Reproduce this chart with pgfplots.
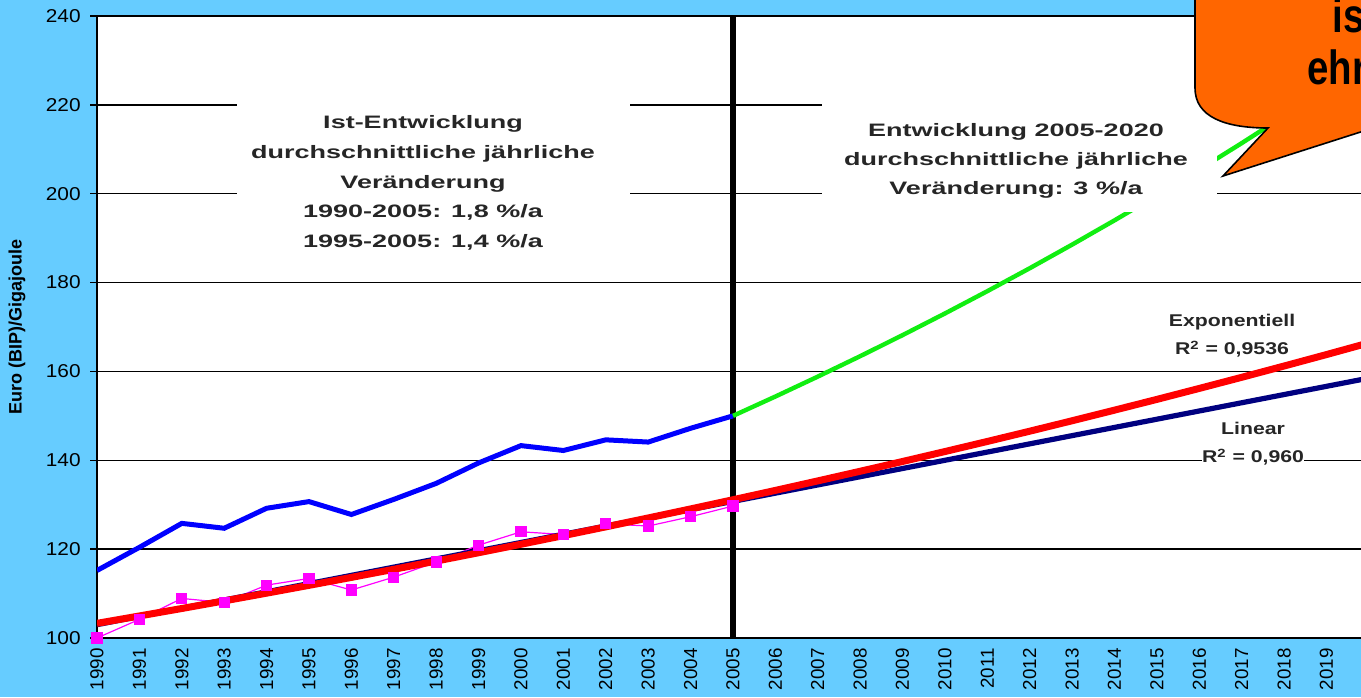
\documentclass[border=0pt]{standalone}
\usepackage{fontspec}
\setmainfont{Liberation Sans}
\newfontfamily\annfont[FakeStretch=1.5]{Liberation Sans}
\newfontfamily\trfont[FakeStretch=1.25]{Liberation Sans}
\newfontfamily\tickfont[FakeStretch=1.12]{Liberation Sans}
\newfontfamily\callfont[FakeStretch=0.8]{Liberation Sans}
\usepackage{pgfplots}
\pgfplotsset{compat=1.18}
\definecolor{bgblue}{HTML}{66CCFF}
\definecolor{callout}{HTML}{FF6600}
\definecolor{trendnavy}{HTML}{000080}
\definecolor{proj}{HTML}{11EE11}
\definecolor{idx}{HTML}{FF00FF}

\begin{document}
\begin{tikzpicture}[x=0.5pt,y=0.5pt]
\begin{scope}
\clip (0,0) rectangle (1361,697);
\fill[bgblue] (0,0) rectangle (1361,697);
\begin{axis}[
  at={(48.5pt,29.5pt)}, anchor=south west,
  x=21.2pt, y=2.2215pt,
  xmin=1990, xmax=2021, ymin=100, ymax=240,
  axis background/.style={fill=white},
  xtick={1990,...,2020}, ytick={100,120,...,240},
  /pgf/number format/1000 sep={},
  /pgf/number format/assume math mode=true,
  ymajorgrids, grid style={black, line width=0.7pt},
  axis line style={black, line width=0.8pt},
  tick align=outside, major tick length=3.5pt,
  xtick pos=left, ytick pos=left,
  xtick style={draw=none},
  ytick style={black, line width=0.7pt},
  yticklabel style={font=\tickfont\fontsize{9.3}{10}\selectfont, anchor=east, inner sep=0pt, xshift=-4.5pt},
  xticklabel style={font=\fontsize{9.4}{10}\selectfont, yshift=-1.5pt, rotate=90, anchor=east, inner sep=0pt},
  clip=true,
]
\addplot[black, line width=3pt] coordinates {(2005,100) (2005,240)};
\addplot[idx, line width=0.6pt, mark=square*, mark size=2.5pt] coordinates {
(1990,100.0) (1991,104.2) (1992,108.9) (1993,108.0) (1994,111.9) (1995,113.4)
(1996,110.8) (1997,113.7) (1998,117.1) (1999,120.9) (2000,123.9) (2001,123.3)
(2002,125.7) (2003,125.2) (2004,127.3) (2005,129.7)};
\addplot[trendnavy, line width=2.6pt] coordinates {(1990,103.0) (2021,160.35)};
\addplot[red, line width=3.5pt] coordinates {
(1990,103.30) (1991,104.96) (1992,106.64) (1993,108.35) (1994,110.09) (1995,111.85)
(1996,113.64) (1997,115.46) (1998,117.31) (1999,119.19) (2000,121.10) (2001,123.04)
(2002,125.01) (2003,127.02) (2004,129.05) (2005,131.12) (2006,133.22) (2007,135.36)
(2008,137.53) (2009,139.73) (2010,141.97) (2011,144.24) (2012,146.55) (2013,148.90)
(2014,151.29) (2015,153.71) (2016,156.18) (2017,158.68) (2018,161.22) (2019,163.80)
(2020,166.43) (2021,169.10)};
\addplot[blue, line width=2.5pt] coordinates {
(1990,115.2) (1991,120.4) (1992,125.8) (1993,124.7) (1994,129.2) (1995,130.7)
(1996,127.8) (1997,131.2) (1998,134.8) (1999,139.4) (2000,143.3) (2001,142.2)
(2002,144.6) (2003,144.1) (2004,147.2) (2005,150.0)};
\addplot[proj, line width=2.2pt] coordinates {
(2005,150.00) (2006,154.35) (2007,158.83) (2008,163.43) (2009,168.17) (2010,173.05)
(2011,178.07) (2012,183.23) (2013,188.55) (2014,194.01) (2015,199.64) (2016,205.43)
(2017,211.39) (2018,217.52) (2019,223.82) (2020,230.31)};
\end{axis}
% y axis label
\node[rotate=90, font=\bfseries\fontsize{9}{10}\selectfont] at (17,370) {Euro (BIP)/Gigajoule};
% left text box
\fill[white] (237,435) rectangle (630,602);
\node[align=center, font=\annfont\bfseries\fontsize{9}{14.9}\selectfont, text=black!85] at (423,514)
 {Ist-Entwicklung\\durchschnittliche jährliche\\Veränderung\\1990-2005: 1,8 \%/a\\1995-2005: 1,4 \%/a};
% right text box
\fill[white] (822,485) rectangle (1217,602);
\node[align=center, font=\annfont\bfseries\fontsize{9}{14.6}\selectfont, text=black!85] at (1016,536)
 {Entwicklung 2005-2020\\durchschnittliche jährliche\\Veränderung: 3 \%/a};
% trendline labels
\node[align=center, font=\trfont\bfseries\fontsize{8.5}{14}\selectfont, text=black!85] at (1232,361)
 {Exponentiell\\R\textsuperscript{2} = 0,9536};
\node[align=center, fill=white, inner sep=0pt, font=\trfont\bfseries\fontsize{8.5}{14}\selectfont, text=black!85] at (1253,253)
 {Linear\\R\textsuperscript{2} = 0,960};
% callout
\draw[fill=callout, line width=0.8pt, line join=miter] (1195,720) -- (1195,609)
  .. controls (1195,580) and (1225,569) .. (1268,569) -- (1223,521) -- (1420,584) -- (1420,720) -- cycle;
\node[anchor=base west, inner sep=0pt, font=\callfont\bfseries\fontsize{24}{26}\selectfont] at (1332,664) {is};
\node[anchor=base west, inner sep=0pt, font=\callfont\bfseries\fontsize{24}{26}\selectfont] at (1307,612) {ehr};
\end{scope}
\pgfresetboundingbox
\path[use as bounding box] (0,0) rectangle (1361,697);
\end{tikzpicture}
\end{document}
